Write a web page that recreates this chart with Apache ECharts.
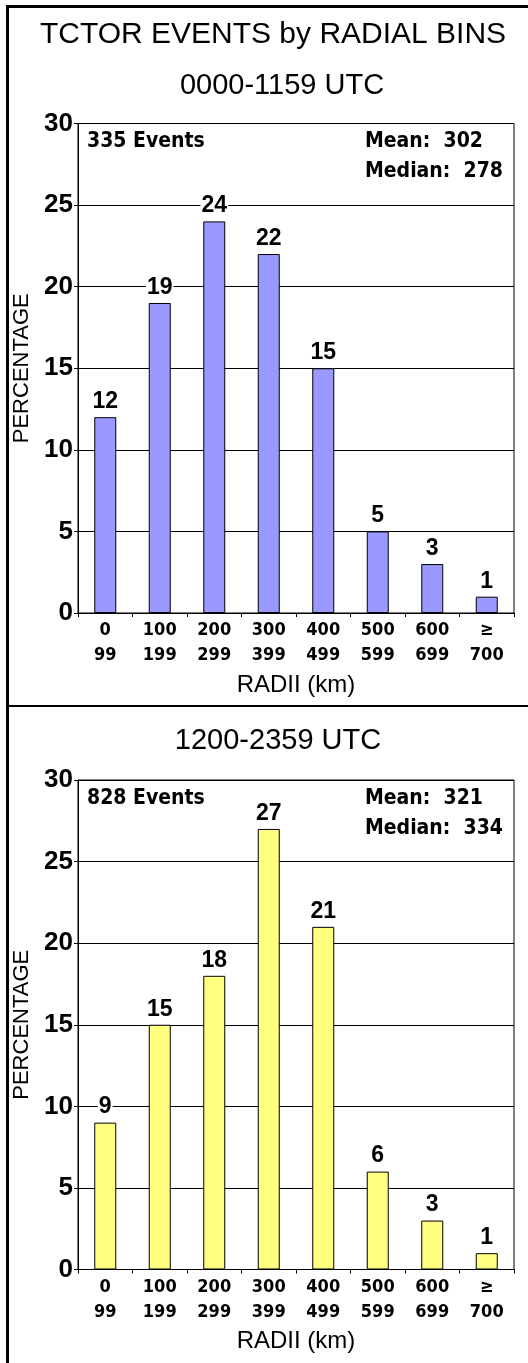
<!DOCTYPE html>
<html>
<head>
<meta charset="utf-8">
<script src="https://cdn.jsdelivr.net/npm/echarts@6.0.0/dist/echarts.min.js"></script>
<style>
html,body{margin:0;padding:0;background:#fff;}
#chart{width:528px;height:1363px;}
</style>
</head>
<body>
<div id="chart"></div>
<script>
const categories = ['0\n99','100\n199','200\n299','300\n399','400\n499','500\n599','600\n699','\u2265\n700'];
const amValues = [12, 19, 24, 22, 15, 5, 3, 1];
const pmValues = [9, 15, 18, 27, 21, 6, 3, 1];
const yMin = 0, yMax = 30, yStep = 5;
const mainTitle = 'TCTOR EVENTS by RADIAL BINS';
const panelTitles = ['0000-1159 UTC', '1200-2359 UTC'];
const eventCounts = ['335 Events', '828 Events'];
const means = ['Mean:  302', 'Mean:  321'];
const medians = ['Median:  278', 'Median:  334'];

const ARIAL = "'Liberation Sans', Arial, sans-serif";
const NARROW = "'DejaVu Sans Condensed', 'Liberation Sans Narrow', 'DejaVu Sans', sans-serif";
const gridTops = [123.5, 780];
const gridH = 489.5;

function xAxis(i) {
  return {
    type: 'category', gridIndex: i, data: categories,
    axisLine: {lineStyle: {color: '#000', width: 1}},
    axisTick: {show: true, length: 4, lineStyle: {color: '#000'}},
    axisLabel: {color: '#000', fontFamily: NARROW, fontWeight: 'bold', fontSize: 18, lineHeight: 25, margin: 5, interval: 0},
    name: 'RADII (km)', nameLocation: 'middle', nameGap: 60,
    nameTextStyle: {color: '#000', fontFamily: ARIAL, fontSize: 24}
  };
}
function yAxis(i) {
  return {
    type: 'value', gridIndex: i, min: yMin, max: yMax, interval: yStep,
    axisLine: {show: true, lineStyle: {color: '#000', width: 1}},
    axisTick: {show: true, length: 4, lineStyle: {color: '#000'}},
    axisLabel: {color: '#000', fontFamily: ARIAL, fontWeight: 'bold', fontSize: 26, margin: 5},
    splitLine: {show: true, lineStyle: {color: '#000', width: 1}},
    name: 'PERCENTAGE', nameLocation: 'middle', nameRotate: 90, nameGap: 42,
    nameTextStyle: {color: '#000', fontFamily: ARIAL, fontSize: 22}
  };
}
function series(i, data, color) {
  return {
    type: 'bar', xAxisIndex: i, yAxisIndex: i, data: data, barWidth: 22,
    itemStyle: {color: color, borderColor: '#000', borderWidth: 1},
    label: {show: true, position: 'top', distance: 4, color: '#000', fontFamily: ARIAL,
      fontWeight: 'bold', fontSize: 23, backgroundColor: '#fff', padding: [0, 1]}
  };
}
function txt(x, y, text, font, size, weight, align) {
  return {type: 'text', x: x, y: y, style: {text: text, fill: '#000', font: (weight || 'normal') + ' ' + size + 'px ' + font,
    textAlign: align || 'left', textVerticalAlign: 'middle'}, z: 100};
}

const chart = echarts.init(document.getElementById('chart'), null, {renderer: 'canvas'});
chart.setOption({
  animation: false,
  backgroundColor: '#fff',
  grid: gridTops.map(t => ({left: 78, right: 14, top: t, height: gridH, show: true, borderColor: '#000', borderWidth: 1, containLabel: false})),
  xAxis: [xAxis(0), xAxis(1)],
  yAxis: [yAxis(0), yAxis(1)],
  series: [series(0, amValues, '#9999ff'), series(1, pmValues, '#ffff80')],
  graphic: [
    {type: 'rect', shape: {x: 6, y: 5, width: 3, height: 1358}, style: {fill: '#000'}},
    {type: 'rect', shape: {x: 6, y: 5, width: 522, height: 3}, style: {fill: '#000'}},
    {type: 'rect', shape: {x: 9, y: 705, width: 519, height: 2}, style: {fill: '#000'}},
    txt(273, 35, mainTitle, ARIAL, 30, 'normal', 'center'),
    txt(282, 86, panelTitles[0], ARIAL, 29, 'normal', 'center'),
    txt(278, 741, panelTitles[1], ARIAL, 29, 'normal', 'center'),
    txt(87, 141.5, eventCounts[0], NARROW, 21, 'bold'),
    txt(365, 141.5, means[0], NARROW, 21, 'bold'),
    txt(365, 171.5, medians[0], NARROW, 21, 'bold'),
    txt(87, 799, eventCounts[1], NARROW, 21, 'bold'),
    txt(365, 799, means[1], NARROW, 21, 'bold'),
    txt(365, 829, medians[1], NARROW, 21, 'bold')
  ]
});
</script>
</body>
</html>
